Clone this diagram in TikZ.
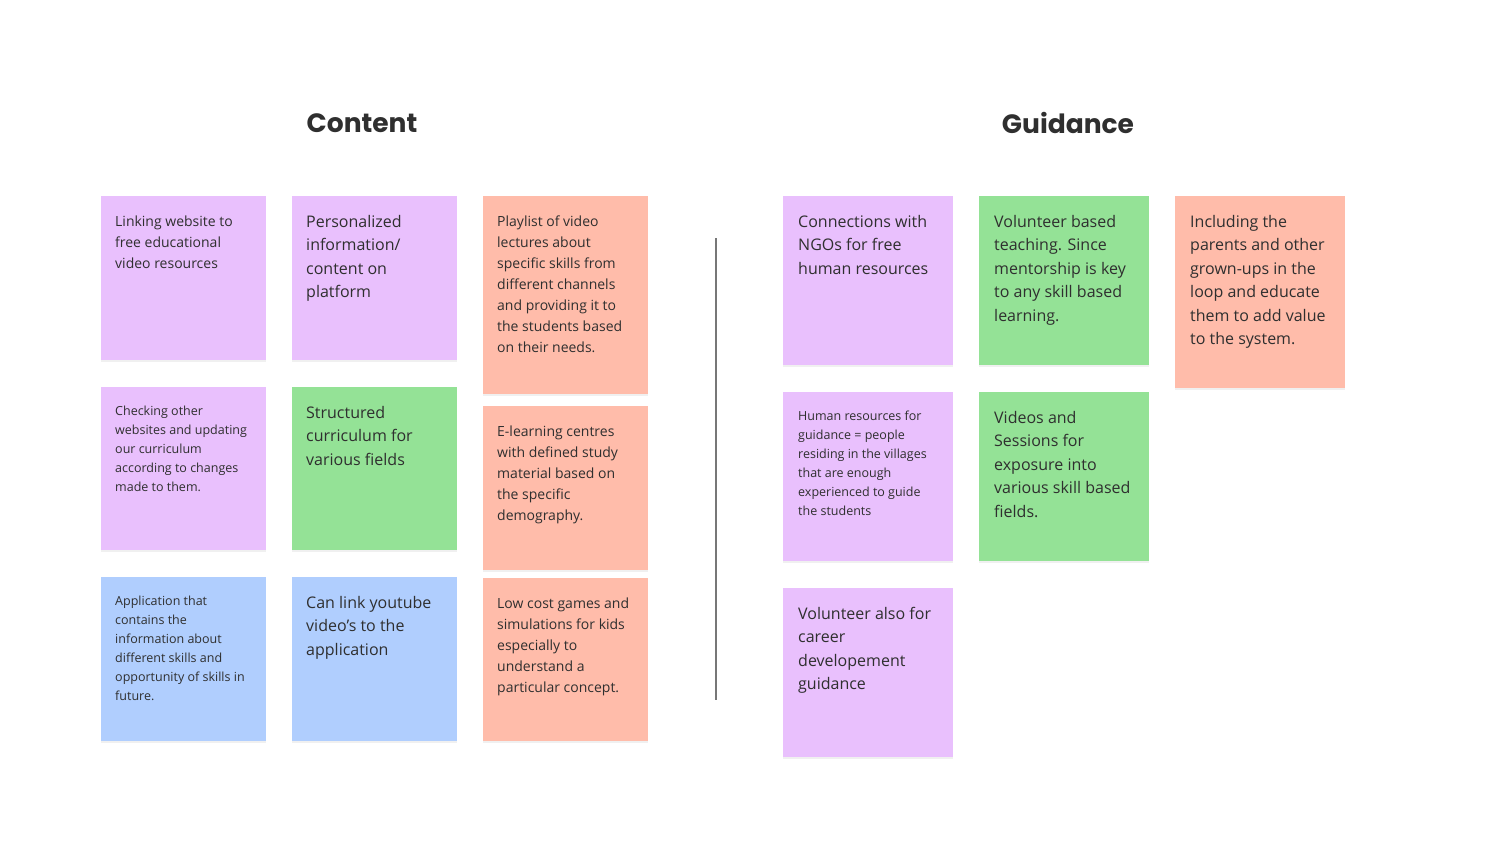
\documentclass[tikz,border=0pt]{standalone}
\usepackage{fontspec}
\setmainfont{Open Sans}
\newfontfamily\titlefont{Poppins}
\usetikzlibrary{calc,shadows}

\definecolor{notepurple}{HTML}{E9C0FD}
\definecolor{notegreen}{HTML}{94E296}
\definecolor{notesalmon}{HTML}{FFBCAA}
\definecolor{noteblue}{HTML}{B0CEFE}
\definecolor{inktext}{HTML}{2F2F2F}
\definecolor{inkline}{HTML}{777777}

\begin{document}
\begin{tikzpicture}[x=1pt, y=-1pt,
  note/.style={rectangle, anchor=north west, inner sep=0pt,
    drop shadow={shadow xshift=0pt, shadow yshift=-2pt, opacity=0.06, fill=black}},
  notetext/.style={anchor=north west, inner sep=0pt, align=left, text=inktext},
  txtsmall/.style={font=\fontsize{12.5}{19}\selectfont},
  txtmid/.style={font=\fontsize{14}{21}\selectfont},
  txtlarge/.style={font=\fontsize{16}{23.5}\selectfont},
  heading/.style={font=\titlefont\bfseries\fontsize{26.5}{30}\selectfont, text=inktext},
  divider/.style={draw=inkline, line width=1.2pt}]

  \useasboundingbox (0,0) rectangle (1500,843);

  % --- Parameter ---
  \def\cw{165pt}   % width of the content notes
  \def\gw{170pt}   % width of the guidance notes
  \def\padx{14}    % text inset left
  \def\padtop{19}  % text inset top

  % --- Headings ---
  \node[heading] (content)  at (362,123)  {Content};
  \node[heading] (guidance) at (1068,123) {Guidance};

  % --- Content: column 1 ---
  \node[note, fill=notepurple, minimum width=\cw, minimum height=164pt] (link) at (101,196) {};
  \node[notetext, txtmid] (linktxt) at ($(link.north west)+(\padx,\padtop+1)$)
    {Linking website to\\free educational\\video resources};

  \node[note, fill=notepurple, minimum width=\cw, minimum height=163pt] (check) at (101,387) {};
  \node[notetext, txtsmall] (checktxt) at ($(check.north west)+(\padx,\padtop)$)
    {Checking other\\websites and updating\\our curriculum\\according to changes\\made to them.};

  \node[note, fill=noteblue, minimum width=\cw, minimum height=164pt] (app) at (101,577) {};
  \node[notetext, txtsmall] (apptxt) at ($(app.north west)+(\padx,\padtop)$)
    {Application that\\contains the\\information about\\different skills and\\opportunity of skills in\\future.};

  % --- Content: column 2 ---
  \node[note, fill=notepurple, minimum width=\cw, minimum height=164pt] (pers) at (292,196) {};
  \node[notetext, txtlarge] (perstxt) at ($(pers.north west)+(\padx,\padtop)$)
    {Personalized\\information/\\content on\\platform};

  \node[note, fill=notegreen, minimum width=\cw, minimum height=163pt] (struct) at (292,387) {};
  \node[notetext, txtlarge] (structtxt) at ($(struct.north west)+(\padx,\padtop)$)
    {Structured\\curriculum for\\various fields};

  \node[note, fill=noteblue, minimum width=\cw, minimum height=164pt] (yt) at (292,577) {};
  \node[notetext, txtlarge] (yttxt) at ($(yt.north west)+(\padx,\padtop)$)
    {Can link youtube\\video’s to the\\application};

  % --- Content: column 3 ---
  \node[note, fill=notesalmon, minimum width=\cw, minimum height=198pt] (playlist) at (483,196) {};
  \node[notetext, txtmid] (playlisttxt) at ($(playlist.north west)+(\padx,\padtop+1)$)
    {Playlist of video\\lectures about\\specific skills from\\different channels\\and providing it to\\the students based\\on their needs.};

  \node[note, fill=notesalmon, minimum width=\cw, minimum height=164pt] (elearn) at (483,406) {};
  \node[notetext, txtmid] (elearntxt) at ($(elearn.north west)+(\padx,\padtop+1)$)
    {E-learning centres\\with defined study\\material based on\\the specific\\demography.};

  \node[note, fill=notesalmon, minimum width=\cw, minimum height=163pt] (games) at (483,578) {};
  \node[notetext, txtmid] (gamestxt) at ($(games.north west)+(\padx,\padtop+1)$)
    {Low cost games and\\simulations for kids\\especially to\\understand a\\particular concept.};

  % --- Divider ---
  \draw[divider] (716,238) -- (716,700);

  % --- Guidance: column 1 ---
  \node[note, fill=notepurple, minimum width=\gw, minimum height=169pt] (ngo) at (783,196) {};
  \node[notetext, txtlarge] (ngotxt) at ($(ngo.north west)+(\padx+1,\padtop)$)
    {Connections with\\NGOs for free\\human resources};

  \node[note, fill=notepurple, minimum width=\gw, minimum height=169pt] (human) at (783,392) {};
  \node[notetext, txtsmall] (humantxt) at ($(human.north west)+(\padx+1,\padtop)$)
    {Human resources for\\guidance = people\\residing in the villages\\that are enough\\experienced to guide\\the students};

  \node[note, fill=notepurple, minimum width=\gw, minimum height=169pt] (career) at (783,588) {};
  \node[notetext, txtlarge] (careertxt) at ($(career.north west)+(\padx+1,\padtop)$)
    {Volunteer also for\\career\\developement\\guidance};

  % --- Guidance: column 2 ---
  \node[note, fill=notegreen, minimum width=\gw, minimum height=169pt] (volunteer) at (979,196) {};
  \node[notetext, txtlarge] (volunteertxt) at ($(volunteer.north west)+(\padx+1,\padtop)$)
    {Volunteer based\\teaching. Since\\mentorship is key\\to any skill based\\learning.};

  \node[note, fill=notegreen, minimum width=\gw, minimum height=169pt] (videos) at (979,392) {};
  \node[notetext, txtlarge] (videostxt) at ($(videos.north west)+(\padx+1,\padtop)$)
    {Videos and\\Sessions for\\exposure into\\various skill based\\fields.};

  % --- Guidance: column 3 ---
  \node[note, fill=notesalmon, minimum width=\gw, minimum height=192pt] (parents) at (1175,196) {};
  \node[notetext, txtlarge] (parentstxt) at ($(parents.north west)+(\padx+1,\padtop)$)
    {Including the\\parents and other\\grown-ups in the\\loop and educate\\them to add value\\to the system.};

\end{tikzpicture}
\end{document}
